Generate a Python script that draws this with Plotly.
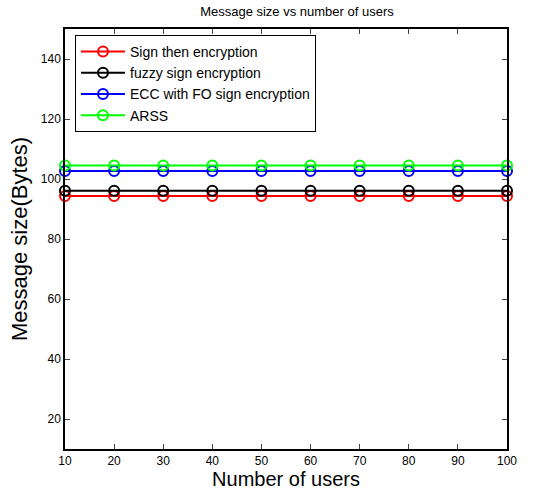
import plotly.graph_objects as go

users = [10, 20, 30, 40, 50, 60, 70, 80, 90, 100]
sign_then_enc = [94.3] * 10
fuzzy_sign_enc = [96.1] * 10
ecc_fo_sign_enc = [102.7] * 10
arss = [104.5] * 10

series = [
    ("Sign then encryption", sign_then_enc, "#ff0000"),
    ("fuzzy sign encryption", fuzzy_sign_enc, "#000000"),
    ("ECC with FO sign encryption", ecc_fo_sign_enc, "#0000ff"),
    ("ARSS", arss, "#00ff00"),
]

fig = go.Figure()
for name, vals, col in series:
    fig.add_trace(go.Scatter(
        x=users, y=vals, name=name, mode="lines+markers",
        line=dict(color=col, width=2),
        marker=dict(symbol="circle-open", size=10, color=col, line=dict(width=2, color=col)),
        cliponaxis=False,
    ))

font = "Liberation Sans, Arial, sans-serif"
fig.update_layout(
    width=545, height=504,
    margin=dict(l=65, r=38, t=29, b=55),
    paper_bgcolor="white", plot_bgcolor="white",
    font=dict(family=font, color="black", size=12),
    title=dict(text="Message size vs number of users", x=(65 + 221) / 545,
               xanchor="center", xref="paper", y=0.986, yanchor="top",
               font=dict(size=13, family=font)),
    showlegend=True,
    legend=dict(x=0.0226, y=0.9857, xanchor="left", yanchor="top",
                bordercolor="black", borderwidth=1, bgcolor="white",
                font=dict(size=14, family=font), itemwidth=44),
    xaxis=dict(range=[10, 100], tickvals=users, ticks="inside", ticklen=5,
               showline=True, linecolor="black", linewidth=1.5, mirror="allticks",
               showgrid=False, zeroline=False, automargin=False,
               title=dict(text="Number of users", font=dict(size=20), standoff=4),
               tickfont=dict(size=12)),
    yaxis=dict(range=[10, 150], tickvals=[20, 40, 60, 80, 100, 120, 140], ticks="inside",
               ticklen=5, showline=True, linecolor="black", linewidth=1.5, mirror="allticks",
               showgrid=False, zeroline=False, automargin=False,
               title=dict(text="Message size(Bytes)", font=dict(size=22), standoff=7),
               tickfont=dict(size=12)),
)

fig.write_html("out.html", config={"displayModeBar": False},
               post_script="document.body.style.margin='0px';")
